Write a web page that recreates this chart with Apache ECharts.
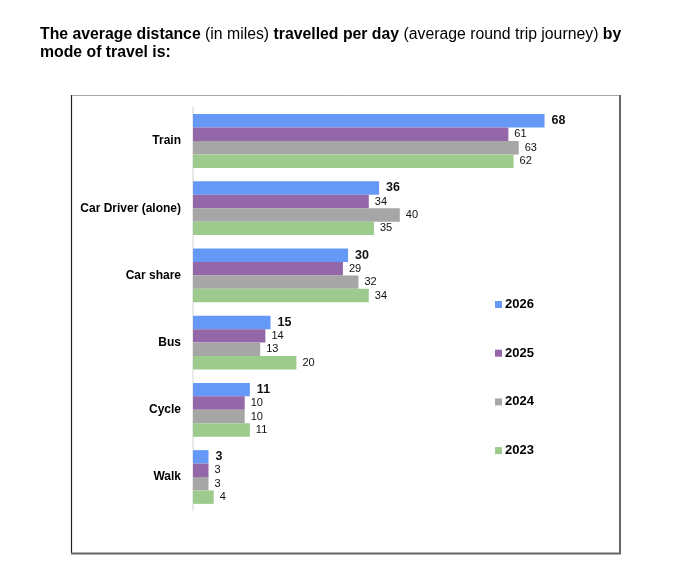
<!DOCTYPE html>
<html><head><meta charset="utf-8">
<script src="https://cdn.jsdelivr.net/npm/echarts@6/dist/echarts.min.js"></script>
<style>html,body{margin:0;padding:0;background:#fff}#c{width:677px;height:587px}</style>
</head><body><div id="c"></div>
<script>
const categories = ['Train','Car Driver (alone)','Car share','Bus','Cycle','Walk'];
const years = ['2026','2025','2024','2023'];
const v2026 = [68,36,30,15,11,3];
const v2025 = [61,34,29,14,10,3];
const v2024 = [63,40,32,13,10,3];
const v2023 = [62,35,34,20,11,4];
const colors = ['#6699F7','#9467A9','#A6A6A6','#9DCB8E'];
const seriesValues = [v2026,v2025,v2024,v2023];

const chart = echarts.init(document.getElementById('c'));
const series = years.map((y,i)=>({
  name:y, type:'bar', data:seriesValues[i], barGap:'0%', barCategoryGap:'20%',
  itemStyle:{color:colors[i]},
  label:{show:true, position:'right', distance:i===0?7:6, color:'#111',
    fontFamily:'Liberation Sans', fontSize:i===0?12.5:11, fontWeight:i===0?'bold':'normal'}
}));
chart.setOption({
  animation:false,
  textStyle:{fontFamily:'Liberation Sans'},
  title:{
    left:35, top:21,
    text:'{b|The average distance }{n|(in miles) }{b|travelled per day }{n|(average round trip journey) }{b|by}\n{b|mode of travel is:}',
    textStyle:{rich:{
      b:{fontFamily:'Liberation Sans',fontWeight:'bold',fontSize:15.8,color:'#000',lineHeight:18},
      n:{fontFamily:'Liberation Sans',fontWeight:'normal',fontSize:15.8,color:'#000',lineHeight:18}
    }}
  },
  legend:{
    orient:'vertical', left:490, top:293, itemGap:35.7, itemWidth:7, itemHeight:7,
    icon:'rect', data:years,
    textStyle:{fontFamily:'Liberation Sans',fontWeight:'bold',fontSize:13,color:'#000',padding:[0,0,0,-2]}
  },
  grid:{left:193, top:107.4, width:80*5.17, height:403.2, containLabel:false},
  xAxis:{type:'value', min:0, max:80, show:false},
  yAxis:{type:'category', data:categories, inverse:true,
    axisLine:{show:true, lineStyle:{color:'#e2e2e2', width:1.5}},
    axisTick:{show:false},
    axisLabel:{fontFamily:'Liberation Sans', fontWeight:'bold', fontSize:12, color:'#000', margin:12}
  },
  series:series,
  graphic:[
    {type:'line', shape:{x1:71,y1:95.5,x2:620,y2:95.5}, style:{stroke:'#a8a8a8',lineWidth:1}},
    {type:'line', shape:{x1:71.5,y1:95,x2:71.5,y2:553}, style:{stroke:'#222',lineWidth:1.2}},
    {type:'line', shape:{x1:620,y1:95,x2:620,y2:554}, style:{stroke:'#666',lineWidth:2}},
    {type:'line', shape:{x1:71,y1:553.5,x2:621,y2:553.5}, style:{stroke:'#666',lineWidth:2.2}}
  ]
});
</script></body></html>
